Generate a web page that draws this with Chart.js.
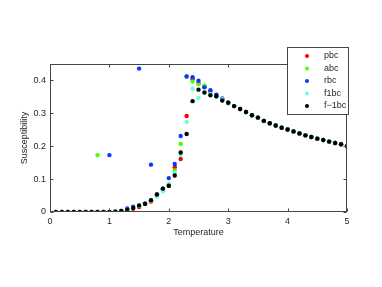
<!DOCTYPE html>
<html>
<head>
<meta charset="utf-8">
<script src="https://cdn.jsdelivr.net/npm/chart.js@4"></script>
<style>
  html, body { margin: 0; padding: 0; background: #fff; }
</style>
</head>
<body>
<canvas id="myChart" width="382" height="287"></canvas>
<script>
// temperature grid (x values)
const temps = [0.1, 0.2, 0.3, 0.4, 0.5, 0.6, 0.7, 0.8, 0.9, 1.0,
               1.1, 1.2, 1.3, 1.4, 1.5, 1.6, 1.7, 1.8, 1.9, 2.0,
               2.1, 2.2, 2.3, 2.4, 2.5, 2.6, 2.7, 2.8, 2.9, 3.0,
               3.1, 3.2, 3.3, 3.4, 3.5, 3.6, 3.7, 3.8, 3.9, 4.0,
               4.1, 4.2, 4.3, 4.4, 4.5, 4.6, 4.7, 4.8, 4.9, 5.0];

// susceptibility per boundary condition
const pbc = [0, 0, 0, 0, 0, 0, 0, 0, 0, 0,
             0.001, 0.003, 0.007, 0.010, 0.015, 0.025, 0.032, 0.050, 0.068, 0.080,
             0.136, 0.161, 0.292, 0.404, 0.391, 0.380, 0.366, 0.356, 0.343, 0.332,
             0.322, 0.313, 0.304, 0.294, 0.287, 0.277, 0.270, 0.263, 0.256, 0.251,
             0.245, 0.239, 0.233, 0.228, 0.223, 0.219, 0.214, 0.210, 0.206, 0.200];
const abc = [0, 0, 0, 0, 0, 0, 0, 0.173, 0, 0,
             0.001, 0.003, 0.007, 0.012, 0.019, 0.025, 0.035, 0.052, 0.070, 0.080,
             0.126, 0.207, 0.413, 0.397, 0.390, 0.385, 0.368, 0.356, 0.343, 0.332,
             0.322, 0.313, 0.304, 0.294, 0.287, 0.277, 0.270, 0.263, 0.256, 0.251,
             0.245, 0.239, 0.233, 0.228, 0.223, 0.219, 0.214, 0.210, 0.206, 0.200];
const rbc = [0, 0, 0, 0, 0, 0, 0, 0, 0, 0.173,
             0.001, 0.003, 0.011, 0.016, 0.436, 0.025, 0.144, 0.053, 0.071, 0.103,
             0.146, 0.231, 0.412, 0.410, 0.399, 0.379, 0.370, 0.357, 0.345, 0.332,
             0.322, 0.313, 0.304, 0.294, 0.287, 0.277, 0.270, 0.263, 0.256, 0.251,
             0.245, 0.239, 0.233, 0.228, 0.223, 0.219, 0.214, 0.210, 0.206, 0.200];
const f1bc = [0, 0, 0, 0, 0, 0, 0, 0, 0, 0,
              0.001, 0.003, 0.007, 0.012, 0.020, 0.027, 0.036, 0.047, 0.063, 0.086,
              0.118, 0.174, 0.274, 0.374, 0.347, 0.366, 0.358, 0.350, 0.343, 0.329,
              0.322, 0.313, 0.304, 0.294, 0.287, 0.277, 0.270, 0.263, 0.256, 0.251,
              0.245, 0.239, 0.233, 0.228, 0.223, 0.219, 0.214, 0.210, 0.206, 0.200];
const fm1bc = [0, 0, 0, 0, 0, 0, 0, 0, 0, 0,
               0.001, 0.003, 0.007, 0.012, 0.020, 0.025, 0.036, 0.053, 0.071, 0.080,
               0.111, 0.181, 0.237, 0.337, 0.372, 0.363, 0.355, 0.352, 0.339, 0.332,
               0.322, 0.313, 0.304, 0.294, 0.287, 0.277, 0.270, 0.263, 0.256, 0.251,
               0.245, 0.239, 0.233, 0.228, 0.223, 0.219, 0.214, 0.210, 0.206, 0.200];

const seriesNames = ['pbc', 'abc', 'rbc', 'f1bc', 'f\u22121bc'];
const seriesValues = [pbc, abc, rbc, f1bc, fm1bc];
const seriesColors = ['#ff0000', '#4cff00', '#0a37ff', '#66ffe6', '#000000'];

const xTicks = [0, 1, 2, 3, 4, 5];
const xTickLabels = ['0', '1', '2', '3', '4', '5'];
const yTicks = [0, 0.1, 0.2, 0.3, 0.4];
const yTickLabels = ['0', '0.1', '0.2', '0.3', '0.4'];

const FONT = { family: '"Liberation Sans", Arial, sans-serif', size: 9 };
const TEXT = '#262626';
const LINE = '#454545';

const datasets = seriesNames.map((name, i) => ({
  label: name,
  data: temps.map((t, j) => ({ x: t, y: seriesValues[i][j] })),
  backgroundColor: seriesColors[i],
  borderColor: seriesColors[i],
  pointRadius: 2.2,
  pointBorderWidth: 0,
  showLine: false,
  order: seriesNames.length - i   // last series drawn on top, like matlab
}));

// axes box, inward ticks, and the boxed legend
const framePlugin = {
  id: 'frame',
  afterDatasetsDraw(chart) {
    const { ctx, chartArea: a, scales: { x, y } } = chart;
    ctx.save();
    ctx.strokeStyle = LINE;
    ctx.lineWidth = 1;
    const L = Math.round(a.left) + 0.5, R = Math.round(a.right) - 0.5;
    const T = Math.round(a.top) + 0.5, B = Math.round(a.bottom) - 0.5;
    ctx.strokeRect(L, T, R - L, B - T);
    ctx.beginPath();
    xTicks.forEach(v => {
      const px = Math.round(x.getPixelForValue(v)) + 0.5;
      ctx.moveTo(px, B); ctx.lineTo(px, B - 3);
      ctx.moveTo(px, T); ctx.lineTo(px, T + 3);
    });
    yTicks.forEach(v => {
      const py = Math.round(y.getPixelForValue(v)) + 0.5;
      ctx.moveTo(L, py); ctx.lineTo(L + 3, py);
      ctx.moveTo(R, py); ctx.lineTo(R - 3, py);
    });
    ctx.stroke();

    // legend
    const lx = 287.5, ly = 47.5, lw = 61, lh = 67;
    ctx.fillStyle = '#fff';
    ctx.fillRect(lx, ly, lw, lh);
    ctx.strokeRect(lx, ly, lw, lh);
    ctx.font = FONT.size + 'px ' + FONT.family;
    ctx.textBaseline = 'middle';
    seriesNames.forEach((name, i) => {
      const ry = 56 + i * 12.5;
      ctx.fillStyle = seriesColors[i];
      ctx.beginPath();
      ctx.arc(307, ry, 2, 0, Math.PI * 2);
      ctx.fill();
      ctx.fillStyle = TEXT;
      ctx.fillText(name, 324, ry);
    });
    ctx.restore();
  }
};

new Chart(document.getElementById('myChart'), {
  type: 'scatter',
  data: { datasets },
  plugins: [framePlugin],
  options: {
    responsive: false,
    animation: false,
    layout: { padding: { top: 64, right: 35, bottom: 0, left: 0 } },
    plugins: { legend: { display: false }, tooltip: { enabled: false } },
    scales: {
      x: {
        type: 'linear', min: 0, max: 5,
        afterBuildTicks: s => { s.ticks = xTicks.map(v => ({ value: v })); },
        afterFit: s => { s.height = 75; },
        grid: { display: false, drawTicks: false },
        border: { display: false },
        ticks: { font: FONT, color: TEXT, padding: 4, maxRotation: 0,
                 callback: (v, i) => xTickLabels[i] },
        title: { display: true, text: 'Temperature', font: FONT, color: TEXT,
                 padding: { top: 0, bottom: 49 } }
      },
      y: {
        type: 'linear', min: 0, max: 0.45,
        afterBuildTicks: s => { s.ticks = yTicks.map(v => ({ value: v })); },
        afterFit: s => { s.width = 50; },
        grid: { display: false, drawTicks: false },
        border: { display: false },
        ticks: { font: FONT, color: TEXT, padding: 4,
                 callback: (v, i) => yTickLabels[i] },
        title: { display: true, text: 'Susceptibility', font: FONT, color: TEXT,
                 padding: { top: 19, bottom: 0 } }
      }
    }
  }
});
</script>
</body>
</html>
